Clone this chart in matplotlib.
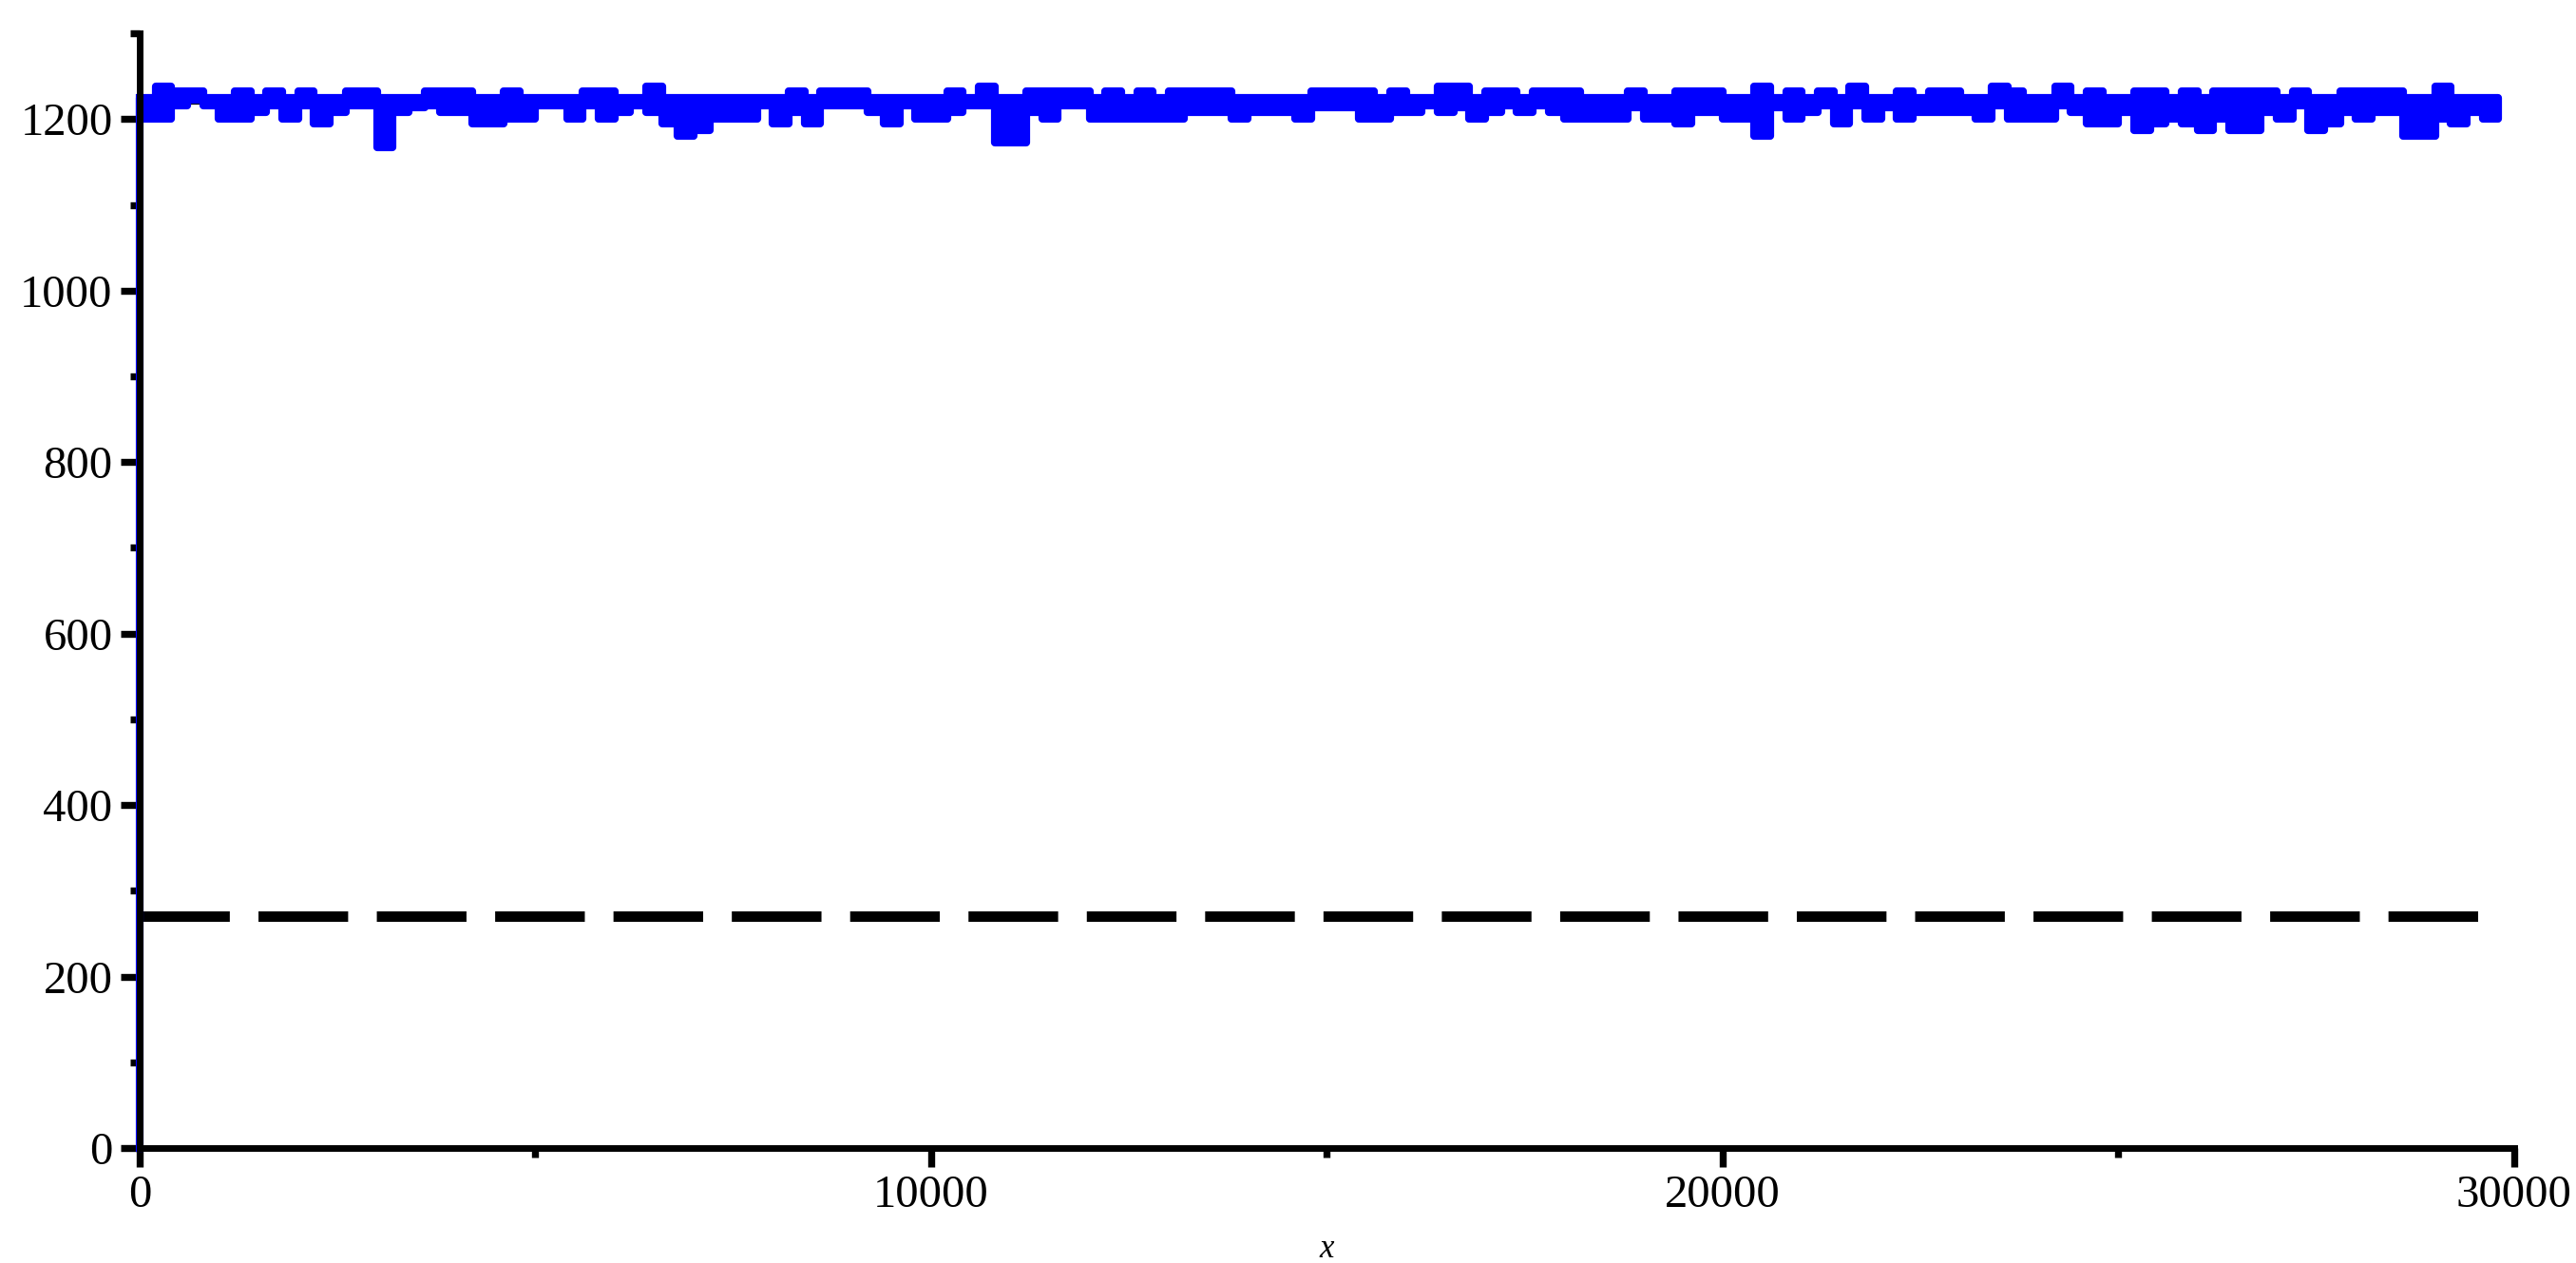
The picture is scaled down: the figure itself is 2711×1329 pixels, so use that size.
import numpy as np
import matplotlib
matplotlib.use('Agg')
import matplotlib.pyplot as plt
from matplotlib.ticker import MultipleLocator

plt.rcParams['font.family'] = ['Liberation Serif', 'DejaVu Serif']

# blue trace, read off the picture as high / low per 200-unit bin
# (the trace starts at 0 at x = 0, then jumps up to the band)
bin_width = 200
blue_start = 0
band_high = [
    1225, 1238, 1232, 1232, 1225, 1225, 1232, 1225, 1232, 1225,
    1232, 1225, 1225, 1232, 1232, 1225, 1225, 1225, 1232, 1232,
    1232, 1225, 1225, 1232, 1225, 1225, 1225, 1225, 1232, 1232,
    1225, 1225, 1238, 1225, 1225, 1225, 1225, 1225, 1225, 1225,
    1225, 1232, 1225, 1232, 1232, 1232, 1225, 1225, 1225, 1225,
    1225, 1232, 1225, 1238, 1225, 1225, 1232, 1232, 1232, 1232,
    1225, 1232, 1225, 1232, 1225, 1232, 1232, 1232, 1232, 1225,
    1225, 1225, 1225, 1225, 1232, 1232, 1232, 1232, 1225, 1232,
    1225, 1225, 1238, 1238, 1225, 1232, 1232, 1225, 1232, 1232,
    1232, 1225, 1225, 1225, 1232, 1225, 1225, 1232, 1232, 1232,
    1225, 1225, 1238, 1225, 1232, 1225, 1232, 1225, 1238, 1225,
    1225, 1232, 1225, 1232, 1232, 1225, 1225, 1238, 1232, 1225,
    1225, 1238, 1225, 1232, 1225, 1225, 1232, 1232, 1225, 1232,
    1225, 1232, 1232, 1232, 1232, 1225, 1232, 1225, 1225, 1232,
    1232, 1232, 1232, 1225, 1225, 1238, 1225, 1225, 1225, 1222,
]
band_low = [
    1200, 1200, 1216, 1222, 1216, 1200, 1200, 1208, 1216, 1200,
    1216, 1195, 1208, 1216, 1216, 1167, 1208, 1214, 1216, 1208,
    1208, 1195, 1195, 1200, 1200, 1216, 1216, 1200, 1216, 1200,
    1208, 1216, 1208, 1195, 1180, 1187, 1200, 1200, 1200, 1216,
    1195, 1208, 1195, 1216, 1216, 1216, 1208, 1195, 1216, 1200,
    1200, 1208, 1216, 1216, 1173, 1173, 1208, 1200, 1216, 1216,
    1200, 1200, 1200, 1200, 1200, 1200, 1208, 1208, 1208, 1200,
    1208, 1208, 1208, 1200, 1214, 1214, 1214, 1200, 1200, 1208,
    1208, 1216, 1208, 1214, 1200, 1208, 1216, 1208, 1216, 1208,
    1200, 1200, 1200, 1200, 1214, 1200, 1200, 1195, 1208, 1208,
    1200, 1200, 1180, 1214, 1200, 1208, 1216, 1195, 1216, 1200,
    1214, 1200, 1208, 1208, 1208, 1208, 1200, 1216, 1200, 1200,
    1200, 1216, 1208, 1195, 1195, 1208, 1187, 1195, 1200, 1195,
    1187, 1200, 1187, 1187, 1208, 1200, 1216, 1187, 1195, 1208,
    1200, 1208, 1208, 1180, 1180, 1200, 1195, 1208, 1200, 1216,
]

# black reference levels
mean_level = 1220
dash_level = 270
x_end = 29800

x_ticks = [0, 10000, 20000, 30000]
y_ticks = [0, 200, 400, 600, 800, 1000, 1200]

bin_x = np.arange(len(band_high)) * bin_width

fig = plt.figure(figsize=(27.11, 13.29), dpi=100)
ax = fig.add_axes([0.0542, 0.0910, 0.9218, 0.8826])

ax.plot([0, x_end], [mean_level, mean_level], color='black', lw=4.5,
        clip_on=False, zorder=2)
ax.plot([0, x_end], [dash_level, dash_level], color='black', lw=7.9,
        dashes=(8.6, 2.75), clip_on=False, zorder=2)

# dense trace drawn as its high/low envelope, stroked with the trace width
blue = (0, 0, 1)
ax.plot([0, 0], [blue_start, band_high[0]], color=blue, lw=5.9,
        clip_on=False, zorder=2.2)
ax.fill_between(bin_x, band_low, band_high, step='post', facecolor=blue,
                edgecolor=blue, linewidth=5.9, joinstyle='round',
                clip_on=False, zorder=2.2)

ax.set_xlim(0, 30000)
ax.set_ylim(0, 1300)
ax.set_xticks(x_ticks)
ax.set_yticks(y_ticks)
ax.xaxis.set_minor_locator(MultipleLocator(5000))
ax.yaxis.set_minor_locator(MultipleLocator(100))

for s in ['top', 'right']:
    ax.spines[s].set_visible(False)
for s in ['left', 'bottom']:
    ax.spines[s].set_linewidth(5)

ax.tick_params(which='major', direction='out', length=14.4, width=5.3,
               labelsize=35, pad=6)
ax.tick_params(which='minor', direction='out', length=7, width=5.3)

ax.set_xlabel('x', style='italic', fontsize=25, labelpad=13)

fig.savefig('out.png', dpi=100)
